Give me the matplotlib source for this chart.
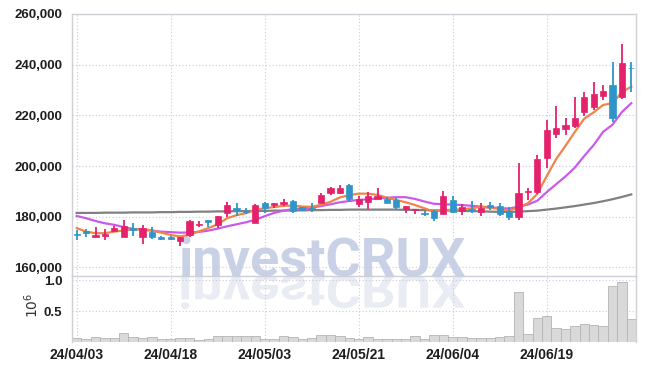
import matplotlib
matplotlib.use('Agg')
import matplotlib.pyplot as plt
import numpy as np
from matplotlib.textpath import TextPath
from matplotlib.patches import PathPatch
from matplotlib.font_manager import FontProperties
from matplotlib.transforms import Affine2D
from matplotlib.ticker import FuncFormatter

plt.rcParams['font.family'] = ['Liberation Sans', 'DejaVu Sans']

# trading days (yy/mm/dd)
dates = ['24/04/03', '24/04/04', '24/04/05', '24/04/08', '24/04/09', '24/04/11', '24/04/12', '24/04/15',
         '24/04/16', '24/04/17', '24/04/18', '24/04/19', '24/04/22', '24/04/23', '24/04/24', '24/04/25',
         '24/04/26', '24/04/29', '24/04/30', '24/05/02', '24/05/03', '24/05/07', '24/05/08', '24/05/09',
         '24/05/10', '24/05/13', '24/05/14', '24/05/16', '24/05/17', '24/05/20', '24/05/21', '24/05/22',
         '24/05/23', '24/05/24', '24/05/27', '24/05/28', '24/05/29', '24/05/30', '24/05/31', '24/06/03',
         '24/06/04', '24/06/05', '24/06/07', '24/06/10', '24/06/11', '24/06/12', '24/06/13', '24/06/14',
         '24/06/17', '24/06/18', '24/06/19', '24/06/20', '24/06/21', '24/06/24', '24/06/25', '24/06/26',
         '24/06/27', '24/06/28', '24/07/01', '24/07/02']

opens = [172900, 174400, 171900, 172200, 174500, 172100, 175600, 172100, 174100, 172100,
         172100, 170400, 172800, 176900, 178700, 176800, 181300, 183300, 182300, 177700,
         185400, 184800, 185200, 186200, 184000, 183400, 185300, 189500, 189300, 192500,
         184900, 186000, 187000, 186900, 186600, 183100, 182500, 181600, 182400, 180900,
         186600, 182400, 183200, 181800, 184700, 184300, 182300, 179700, 189800, 189900,
         203300, 212500, 214500, 215900, 221500, 223400, 227600, 232000, 227100, 238700]
highs = [174800, 175100, 176100, 175100, 176400, 178700, 177600, 176600, 175900, 172300,
         172300, 172000, 178800, 178300, 178700, 180300, 185700, 185300, 183300, 185000,
         185700, 185400, 187000, 186600, 184000, 185600, 189500, 191600, 192500, 193000,
         188000, 189700, 191200, 187800, 187300, 184300, 183000, 182200, 182700, 190200,
         188000, 185000, 186200, 185300, 186000, 185300, 184000, 201100, 191200, 204300,
         218200, 223800, 218900, 227400, 229300, 233100, 232000, 240900, 248000, 241200]
lows = [170800, 171900, 171700, 170800, 174200, 171900, 172400, 169200, 171200, 170700,
        170800, 168500, 171900, 175900, 175900, 175700, 180000, 180400, 181000, 177700,
        181500, 183300, 184400, 181600, 182300, 182000, 185300, 188600, 189000, 185900,
        183900, 183000, 187000, 185300, 183000, 181600, 181200, 180200, 178500, 180900,
        181600, 180700, 181400, 180300, 182700, 180300, 178700, 178600, 186600, 188800,
        199400, 211000, 212300, 214900, 219900, 222100, 226100, 217300, 226500, 229300]
closes = [172700, 173500, 172800, 173100, 175500, 176400, 174800, 175400, 171900, 171100,
          171100, 172000, 178300, 177200, 178000, 180300, 184500, 182700, 181800, 184700,
          183300, 185400, 186000, 182300, 182700, 183100, 188600, 191200, 191200, 186900,
          187100, 188200, 188300, 185600, 183700, 184300, 183000, 181000, 179600, 188200,
          182000, 184000, 182800, 183300, 183700, 181100, 179800, 189400, 190200, 202700,
          214200, 215100, 216200, 219100, 227400, 228400, 229600, 218900, 240600, 238500]

ma5 = [175500, 174100, 173500, 173500, 174100, 174600, 175000, 175100, 174600, 173700,
       172800, 172200, 172900, 174200, 175500, 177000, 179400, 180600, 181400, 182600,
       183400, 183800, 184300, 184400, 184000, 183900, 184700, 185900, 187600, 188500,
       189100, 189100, 188600, 187500, 186600, 185700, 184600, 183300, 182000, 182600,
       182700, 183000, 183300, 183900, 183500, 183100, 182400, 183700, 185300, 189000,
       196000, 202700, 208000, 213500, 218700, 221200, 224100, 224800, 229200, 231300]
ma10 = [180300, 179400, 178300, 177400, 176800, 175900, 175200, 174800, 174500, 174100,
        173900, 173700, 173800, 174000, 174500, 175300, 176200, 177000, 177800, 178800,
        180200, 181500, 182400, 183000, 183300, 183600, 184200, 184900, 185700, 186200,
        186600, 186900, 187200, 187500, 187700, 187700, 187000, 186000, 185100, 184900,
        184800, 184600, 184300, 184000, 183700, 183400, 183200, 184000, 184800, 186300,
        189700, 192800, 195900, 199400, 204000, 208300, 213500, 216300, 221300, 224800]
ma60 = [181500, 181500, 181500, 181600, 181600, 181600, 181700, 181700, 181700, 181800,
        181800, 181900, 181900, 182000, 182000, 182100, 182100, 182200, 182200, 182300,
        182300, 182400, 182400, 182500, 182500, 182600, 182600, 182700, 182700, 182800,
        182800, 182800, 182800, 182800, 182800, 182700, 182700, 182600, 182500, 182500,
        182400, 182300, 182200, 182100, 182000, 181900, 181900, 182000, 182200, 182400,
        182800, 183200, 183700, 184200, 184800, 185400, 186100, 186900, 187800, 188800]

volumes = [69000, 53000, 75000, 60000, 60000, 140000, 75000, 60000, 75000, 43000,
           43000, 69000, 69000, 27000, 43000, 90000, 90000, 90000, 90000, 90000,
           48000, 48000, 90000, 75000, 43000, 60000, 113000, 113000, 97000, 60000,
           48000, 75000, 43000, 43000, 43000, 43000, 97000, 48000, 113000, 113000,
           75000, 75000, 60000, 60000, 60000, 75000, 97000, 806000, 129000, 382000,
           419000, 221000, 205000, 258000, 290000, 274000, 258000, 903000, 968000, 371000]

price_ticks = [160000, 180000, 200000, 220000, 240000, 260000]

UP = '#e4226c'
DOWN = '#2f95c8'
GRID = '#c9cbdc'
WM_FONT = ['Roboto', 'DejaVu Sans']

fig = plt.figure(figsize=(6.45, 3.70), dpi=100)
fig.patch.set_facecolor('white')
W, H = 645, 370
ax = fig.add_axes([72 / W, 1 - 276 / H, 564 / W, 262 / H])
axv = fig.add_axes([72 / W, 1 - 342 / H, 564 / W, 66 / H], sharex=ax)
for a in (ax, axv):
    a.set_facecolor('none')

x = np.arange(len(dates))
o = np.array(opens); c = np.array(closes)
h = np.array(highs); l = np.array(lows)
colors = [UP if cc >= oo else DOWN for oo, cc in zip(o, c)]

# moving averages
ax.plot(x, ma60, color='#808080', lw=1.6, zorder=2)
ax.plot(x, ma10, color='#c95be9', lw=1.6, zorder=2)
ax.plot(x, ma5, color='#f08449', lw=1.6, zorder=2)

# candles
ax.vlines(x, l, h, colors=colors, lw=1.3, zorder=3)
bottom = np.minimum(o, c)
height = np.maximum(np.abs(c - o), 350)
ax.bar(x, height, bottom=bottom, width=0.68, color=colors, edgecolor=colors, lw=0.5, zorder=4)

ax.set_xlim(-0.5, len(dates) - 0.5)
ax.set_ylim(156600, 260000)
ax.set_yticks(price_ticks)
ax.yaxis.set_major_formatter(FuncFormatter(lambda v, p: f'{int(v):,}'))

# volume
vol = np.array(volumes) / 1e6
axv.bar(x, vol, width=1.0, color='#d9d9d9', edgecolor='#b5b5b5', lw=0.6, zorder=2)
axv.set_ylim(0, 1.065)
axv.set_yticks([0.5, 1.0])
axv.set_yticklabels(['0.5', '1.0'])

tick_idx = list(range(0, len(dates), 10))
axv.set_xticks(tick_idx)
axv.set_xticklabels([dates[i] for i in tick_idx])

for a in (ax, axv):
    a.grid(True, color=GRID, lw=0.8, linestyle=(0, (1, 2)))
    a.set_axisbelow(True)
    a.tick_params(length=0, labelsize=9.5, colors='#1e1e1e', pad=7)
    for s in a.spines.values():
        s.set_color('#cfcfd6')
        s.set_linewidth(1.0)
    for lab in a.get_xticklabels() + a.get_yticklabels():
        lab.set_fontweight('bold')
ax.tick_params(axis='x', labelbottom=False)
axv.spines['top'].set_visible(False)
axv.spines['bottom'].set_visible(False)
axv.tick_params(axis='x', pad=4, labelsize=10)

fig.text(32 / W, 1 - 305 / H, r'$10^{6}$', rotation=90, ha='center', va='center',
         fontsize=10, color='#333333')

# watermark and its reflection
wm_size = 39
fig.text(178 / W, 1 - 275 / H, 'investCRUX', fontsize=wm_size, fontweight='bold',
         family=WM_FONT, color='#c9d1e6', ha='left', va='baseline', zorder=-1)
fp = FontProperties(family=WM_FONT, weight='bold')
tp = TextPath((0, 0), 'investCRUX', size=wm_size * 100 / 72, prop=fp)
tr = Affine2D().scale(1 / 100, -0.85 / 100).translate(178 / 100, 95 / 100) + fig.dpi_scale_trans
fig.add_artist(PathPatch(tp, transform=tr, facecolor='#eaecf4', edgecolor='none', zorder=-1))

fig.savefig('out.png', dpi=100)
